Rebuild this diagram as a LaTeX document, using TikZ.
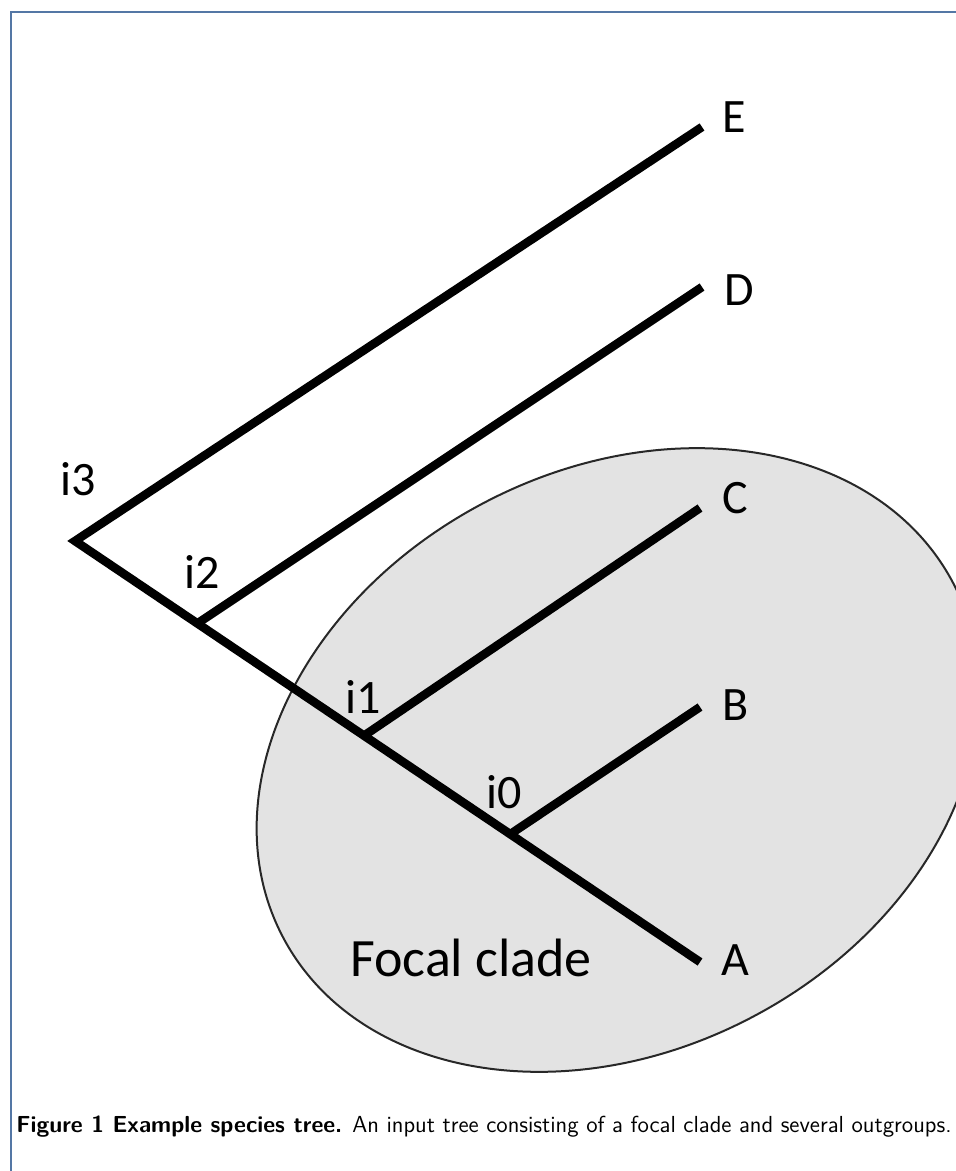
\documentclass[tikz,border=0pt]{standalone}
\usepackage{fontspec}
\newfontfamily\labelfont{Carlito}
\usetikzlibrary{shapes.geometric}
\definecolor{framecol}{RGB}{84,119,165}
\definecolor{cladefill}{RGB}{227,227,227}
\definecolor{cladeline}{RGB}{40,40,40}
\tikzset{
  branch/.style={line width=4.3pt, line cap=butt, line join=miter, black},
  tip/.style={font=\labelfont\fontsize{24}{28}\selectfont, anchor=west, inner sep=0pt},
  inlabel/.style={font=\labelfont\fontsize{24}{28}\selectfont, inner sep=0pt},
  cladebox/.style={ellipse, draw=cladeline, fill=cladefill, line width=1pt, inner sep=0pt},
  framebox/.style={draw=framecol, line width=1pt},
}
\begin{document}
\begin{tikzpicture}[x=0.5pt, y=-0.5pt]
\useasboundingbox (0,0) rectangle (956,1171);
\clip (0,0) rectangle (956,1171);
% frame
\coordinate (fbl) at (11,1175);
\coordinate (ftl) at (11,12);
\coordinate (ftr) at (960,12);
\draw[framebox] (fbl) -- (ftl) -- (ftr);
% focal clade ellipse
\node[cladebox, rotate=28, minimum width=379pt, minimum height=290pt] (clade) at (618,760) {};
% internal node positions
\coordinate (i3) at (75,541);
\coordinate (i2) at (198,623);
\coordinate (i1) at (365,735);
\coordinate (i0) at (512,833);
% tip ends
\coordinate (eE) at (702,127);
\coordinate (eD) at (702,287);
\coordinate (eC) at (700,508);
\coordinate (eB) at (700,707);
\coordinate (eA) at (700,962);
% branches
\draw[branch] (eE) -- (i3) -- (eA);
\draw[branch] (i2) -- (eD);
\draw[branch] (i1) -- (eC);
\draw[branch] (i0) -- (eB);
% tip labels
\node[tip] (E) at (722,117) {E};
\node[tip] (D) at (724,290) {D};
\node[tip] (C) at (722,498) {C};
\node[tip] (B) at (722,705) {B};
\node[tip] (A) at (721,960) {A};
% internal labels
\node[inlabel] (li3) at (78,479) {i3};
\node[inlabel] (li2) at (202,572) {i2};
\node[inlabel] (li1) at (363,697) {i1};
\node[inlabel] (li0) at (504,792) {i0};
% focal clade label
\node[font=\labelfont\fontsize{27}{32}\selectfont, inner sep=0pt] (focal) at (471,958) {Focal clade};
% caption
\node[anchor=base west, inner sep=0pt, font=\sffamily\fontsize{11.6}{13}\selectfont] (caption) at (16,1132)
  {\textbf{Figure 1 Example species tree.} An input tree consisting of a focal clade and several outgroups.};
\end{tikzpicture}
\end{document}
